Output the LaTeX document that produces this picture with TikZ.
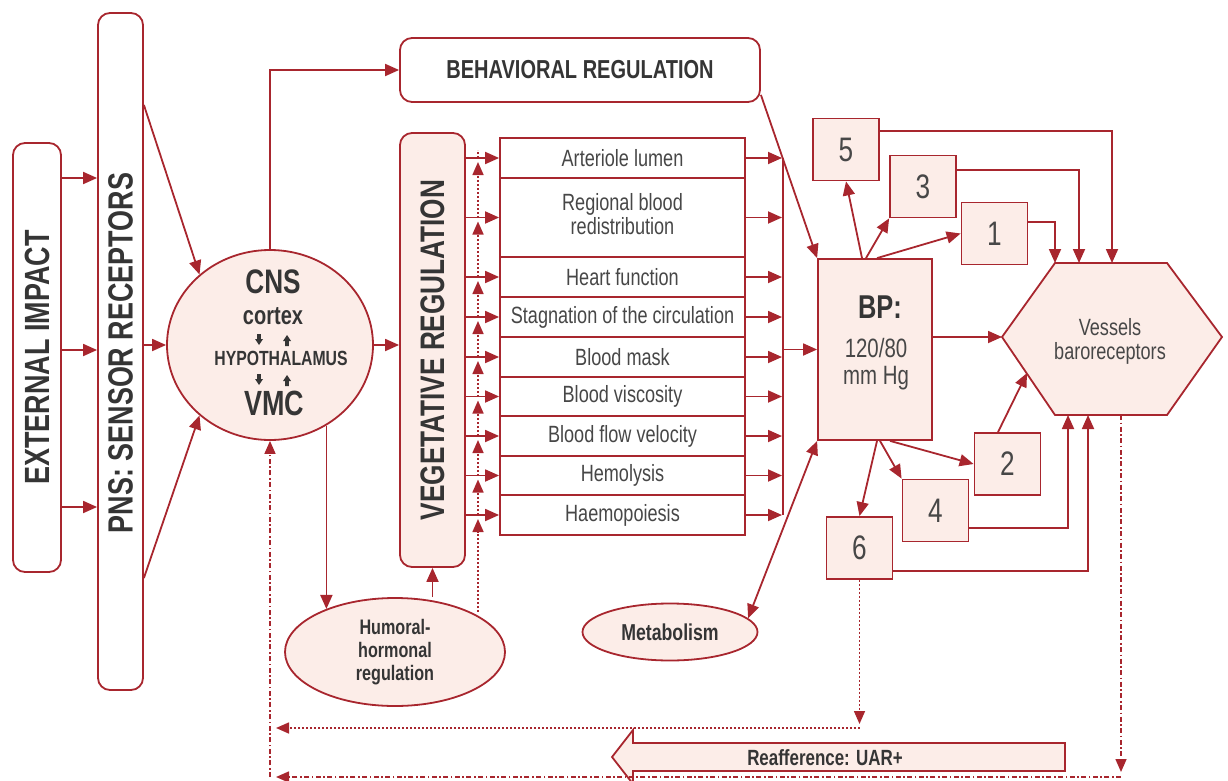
\documentclass[tikz,border=0pt]{standalone}
\usepackage{fontspec}
\setmainfont{Liberation Sans}[FakeStretch=0.77]
\usetikzlibrary{arrows.meta,shapes.geometric,calc}
\definecolor{dr}{HTML}{A8262E}
\definecolor{pk}{HTML}{FCEDE8}
\definecolor{tx}{HTML}{353535}
\definecolor{tg}{HTML}{474747}
\tikzset{
  ln/.style={draw=dr, line width=1.8pt},
  arr/.style={ln, -{Triangle[length=14pt,width=12pt]}},
  darr/.style={ln, {Triangle[length=14pt,width=12pt]}-{Triangle[length=14pt,width=12pt]}},
  dotln/.style={draw=dr, line width=1.6pt, dash pattern=on 1.6pt off 2.4pt},
  dotarr/.style={dotln, -{Triangle[length=13pt,width=11pt]}},
  dashdot/.style={draw=dr, line width=1.6pt, dash pattern=on 5pt off 2.5pt on 1.6pt off 2.5pt},
  ddarr/.style={dashdot, -{Triangle[length=13pt,width=11pt]}},
  wbox/.style={ln, fill=white, rounded corners=12pt, inner sep=0pt},
  pbox/.style={ln, fill=pk, rounded corners=12pt, inner sep=0pt},
  row/.style={ln, fill=white, minimum width=245pt, inner sep=0pt, text=tg, font=\fontsize{23.5}{24}\selectfont, align=center},
  num/.style={ln, fill=pk, minimum width=66pt, minimum height=62pt, inner sep=0pt, text=tg, font=\fontsize{34}{36}\selectfont},
  oval/.style={ln, fill=pk, ellipse, inner sep=0pt},
  bigtxt/.style={text=tx, font=\bfseries\fontsize{35}{38}\selectfont, inner sep=0pt},
}
\begin{document}
\begin{tikzpicture}[x=1pt,y=-1pt]
\useasboundingbox (0,0) rectangle (1228,781);

% left boxes
\node[wbox, minimum width=48pt, minimum height=429pt] (ext) at (37,357.5) {};
\node[bigtxt, rotate=90] (extt) at (ext.center) {EXTERNAL IMPACT};
\node[wbox, minimum width=45pt, minimum height=677pt] (pns) at (120.5,351.5) {};
\node[bigtxt, rotate=90] (pnst) at (120.5,353) {PNS: SENSOR RECEPTORS};

% CNS
\node[oval, minimum width=206pt, minimum height=190pt] (cns) at (270,345) {};
\node[text=tx, font=\bfseries\fontsize{34}{36}\selectfont, inner sep=0pt] (cnst) at (273,282) {CNS};
\node[text=tx, font=\bfseries\fontsize{26}{28}\selectfont, inner sep=0pt] (cort) at (273,316) {cortex};
\node[text=tx, font=\bfseries\fontsize{20.5}{22}\selectfont, inner sep=0pt] (hyp) at (281,358) {HYPOTHALAMUS};
\node[text=tx, font=\bfseries\fontsize{35}{37}\selectfont, inner sep=0pt] (vmc) at (274,403) {VMC};
\fill[tx] (257.2,334) -- ++(3.6,0) -- ++(0,5) -- ++(2.2,0) -- ++(-4,6) -- ++(-4,-6) -- ++(2.2,0) -- cycle;
\fill[tx] (285.2,346) -- ++(3.6,0) -- ++(0,-5) -- ++(2.2,0) -- ++(-4,-6) -- ++(-4,6) -- ++(2.2,0) -- cycle;
\fill[tx] (257.2,374) -- ++(3.6,0) -- ++(0,5) -- ++(2.2,0) -- ++(-4,6) -- ++(-4,-6) -- ++(2.2,0) -- cycle;
\fill[tx] (285.2,386) -- ++(3.6,0) -- ++(0,-5) -- ++(2.2,0) -- ++(-4,-6) -- ++(-4,6) -- ++(2.2,0) -- cycle;

% behavioral & vegetative
\node[wbox, minimum width=360pt, minimum height=64pt, text=tx, font=\bfseries\fontsize{26}{28}\selectfont] (beh) at (580,70) {BEHAVIORAL REGULATION};
\node[pbox, minimum width=65pt, minimum height=434pt] (veg) at (432.5,350) {};
\node[bigtxt, font=\bfseries\fontsize{34}{36}\selectfont, rotate=90] (vegt) at (432.5,350) {VEGETATIVE REGULATION};

% humoral
\node[oval, minimum width=220pt, minimum height=108pt, text=tx, font=\bfseries\fontsize{21}{23}\selectfont, align=center] (hum) at (395,652) {Humoral-\\hormonal\\regulation};

% rows
\node[row, minimum height=40pt] (r1) at (622.5,158) {Arteriole lumen};
\node[row, minimum height=79pt] (r2) at (622.5,217.5) {};
\node[text=tg, font=\fontsize{23.5}{24}\selectfont, align=center, inner sep=0pt] (r2t) at (622.5,214) {Regional blood\\redistribution};
\node[row, minimum height=40pt] (r3) at (622.5,277) {Heart function};
\node[row, minimum height=40pt] (r4) at (622.5,317) {Stagnation of the circulation};
\node[row, minimum height=40pt] (r5) at (622.5,357) {Blood mask};
\node[row, minimum height=39pt] (r6) at (622.5,396.5) {Blood viscosity};
\node[row, minimum height=40pt] (r7) at (622.5,436) {Blood flow velocity};
\node[row, minimum height=39pt] (r8) at (622.5,475.5) {Hemolysis};
\node[row, minimum height=40pt] (r9) at (622.5,515) {Haemopoiesis};

% metabolism
\node[oval, minimum width=175pt, minimum height=57pt, text=tx, font=\bfseries\fontsize{23}{25}\selectfont] (met) at (670,632) {Metabolism};

% BP and numbered boxes
\node[ln, fill=pk, minimum width=114pt, minimum height=181pt, inner sep=0pt] (bp) at (875,349.5) {};
\node[text=tx, font=\bfseries\fontsize{33}{35}\selectfont, inner sep=0pt] (bpt) at (880,307) {BP:};
\node[text=tg, font=\fontsize{26.5}{27}\selectfont, inner sep=0pt, align=center] (bpv) at (876,364) {120/80\\mm Hg};
\node[num] (b5) at (846,149.5) {5};
\node[num] (b3) at (923,186.5) {3};
\node[num] (b1) at (994.5,233.5) {1};
\node[num] (b2) at (1007.5,464) {2};
\node[num] (b4) at (935.5,510.5) {4};
\node[num] (b6) at (859.5,548) {6};

% hexagon
\coordinate (hl) at (1002,337);
\coordinate (htl) at (1055,263);
\coordinate (htr) at (1167,263);
\coordinate (hr) at (1222,337);
\coordinate (hbr) at (1167,415);
\coordinate (hbl) at (1055,415);
\draw[ln, fill=pk] (hl) -- (htl) -- (htr) -- (hr) -- (hbr) -- (hbl) -- cycle;
\node[text=tg, font=\fontsize{23.5}{24}\selectfont, align=center, inner sep=0pt] (hex) at (1110,341) {Vessels\\baroreceptors};

% reafference arrow
\draw[ln, fill=pk] (1065,743) -- (633,743) -- (633,730) -- (612,757) -- (633,784) -- (633,771) -- (1065,771) -- cycle;
\node[text=tx, font=\bfseries\fontsize{22}{24}\selectfont, inner sep=0pt] (reaf) at (825,758) {Reafference: UAR+};

% connectors left
\draw[arr] (ext.east |- 0,178) -- (pns.west |- 0,178);
\draw[arr] (ext.east |- 0,350) -- (pns.west |- 0,350);
\draw[arr] (ext.east |- 0,507) -- (pns.west |- 0,507);
\draw[arr] (pns.east |- 0,105) -- (cns.135);
\draw[arr] (pns.east |- cns.west) -- (cns.west);
\draw[arr] (pns.east |- 0,578) -- (cns.225);
\draw[arr] (cns.north) -- (cns.north |- beh.west) -- (beh.west);
\draw[arr] (cns.east) -- (veg.west |- cns.east);
\draw[arr] (cns.-55) -- (cns.-55 |- hum.148.7);
\draw[arr] (veg.south |- hum.north) -- (veg.south);

% veg -> rows, dotted humoral feedback
\foreach \r in {r1,r2,r3,r4,r5,r6,r7,r8,r9}{
  \draw[arr] (veg.east |- \r.west) -- (\r.west);
  \draw[arr] (\r.east) -- (782,0 |- \r.east);
}
\coordinate (hd) at (478,612);
\draw[dotarr] (hd) -- (478,519);
\draw[dotarr] (478,515) -- (478,479.5);
\draw[dotarr] (478,475.5) -- (478,440);
\draw[dotarr] (478,436) -- (478,400.5);
\draw[dotarr] (478,396.5) -- (478,361);
\draw[dotarr] (478,357) -- (478,321);
\draw[dotarr] (478,317) -- (478,281);
\draw[dotarr] (478,277) -- (478,221.5);
\draw[dotarr] (478,217.5) -- (478,162);
\draw[dotln] (478,158) -- (478,150);

% collector to BP
\coordinate (cT) at (783,158);
\coordinate (cB) at (783,515);
\draw[ln] (cT) -- (cB);
\draw[arr] (cT |- bp.west) -- (bp.west);

% behavioral -> BP, BP <-> metabolism
\draw[arr] ($(beh.south east)+(0,-8)$) -- (bp.north west);
\draw[darr] (bp.south west) -- (met.10);

% BP -> numbered boxes and hexagon
\draw[arr] ([xshift=-13pt]bp.north) -- (b5.south);
\draw[arr] ([xshift=-9pt]bp.north) -- (b3.south west);
\draw[arr] ([xshift=2pt]bp.north) -- (b1.west);
\draw[arr] (bp.east |- hl) -- (hl);
\draw[arr] ([xshift=15pt]bp.south) -- (b2.west);
\draw[arr] ([xshift=5pt]bp.south) -- (b4.north west);
\draw[arr] ([xshift=2pt]bp.south) -- (b6.north);

% numbered boxes -> hexagon
\draw[arr] ([xshift=-9.5pt]b2.north) -- (1027,373);
\draw[arr] (b1.east |- 0,222) -- (1055,222) -- (htl);
\draw[arr] (b3.east |- 0,170) -- (1079,170) -- (1079,263);
\draw[arr] (b5.east |- 0,131) -- (1112,131) -- (1112,263);
\draw[arr] (b4.east |- 0,528) -- (1068,528) -- (1068,415);
\draw[arr] (b6.east |- 0,571) -- (1088,571) -- (1088,415);

% feedback lines
\draw[dotarr] (b6.south) -- (b6.south |- 0,724);
\draw[dotarr] (b6.south |- 0,728) -- (276,728);
\coordinate (hfb) at (1121,415);
\draw[ddarr] (hfb) -- (1121,772);
\draw[ddarr] (1121,777) -- (276,777);
\draw[ddarr] (cns.south |- 0,777) -- (cns.south);
\end{tikzpicture}
\end{document}
